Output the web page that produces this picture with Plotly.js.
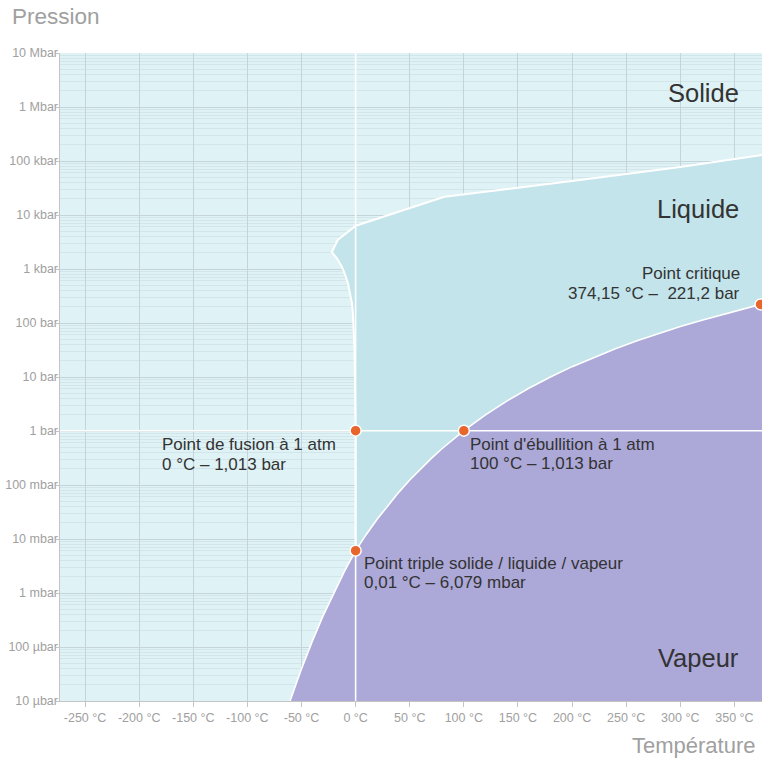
<!DOCTYPE html>
<html>
<head>
<meta charset="utf-8">
<script src="https://cdn.plot.ly/plotly-3.0.1.min.js"></script>
<style>html,body{margin:0;padding:0;background:#fff;}#chart{width:762px;height:759px;}</style>
</head>
<body>
<div id="chart"></div>
<script>
// Sublimation curve (ice / vapour), °C and bar
const subT = [-61, -60, -50, -40, -30, -20, -10, 0.01];
const subP = [0.0000096, 0.0000108, 0.0000394, 0.0001285, 0.00038, 0.001032, 0.0026, 0.006079];
// Vaporisation curve (liquid / vapour)
const vapT = [0.01, 10, 20, 30, 40, 50, 60, 70, 80, 90, 100, 120, 140, 160, 180, 200, 220, 240, 260, 280, 300, 320, 340, 360, 374.15];
const vapP = [0.006079, 0.01228, 0.02339, 0.04246, 0.07384, 0.1235, 0.1995, 0.312, 0.4741, 0.7018, 1.013, 1.987, 3.615, 6.182, 10.03, 15.55, 23.2, 33.47, 46.92, 64.17, 85.88, 112.9, 146.1, 186.7, 221.2];
// Melting curve and solid / liquid boundary, from triple point upward
const meltT = [0.01, 0, -1.0, -1.3, -1.9, -2.5, -3.4, -5.0, -7.1, -9.6, -12.7, -17.3, -22, -16.5, 0.16, 82, 200, 300, 376];
const meltP = [0.006079, 1.013, 32, 56, 99, 151, 232, 355, 543, 774, 1103, 1578, 2050, 3450, 6320, 21800, 42500, 77600, 129000];
// Remarkable points: fusion, ebullition, triple, critical
const ptT = [0, 100, 0.01, 374.15];
const ptP = [1.013, 1.013, 0.006079, 221.2];
const ptLine1 = ["Point de fusion à 1 atm", "Point d'ébullition à 1 atm", "Point triple solide / liquide / vapeur", "Point critique"];
const ptLine2 = ["0 °C – 1,013 bar", "100 °C – 1,013 bar", "0,01 °C – 6,079 mbar", "374,15 °C – &nbsp;221,2 bar"];
// Phase names
const phases = ["Solide", "Liquide", "Vapeur"];
// Ticks
const xTickVals = [-250, -200, -150, -100, -50, 0, 50, 100, 150, 200, 250, 300, 350];
const xTickText = ["-250 °C", "-200 °C", "-150 °C", "-100 °C", "-50 °C", "0 °C", "50 °C", "100 °C", "150 °C", "200 °C", "250 °C", "300 °C", "350 °C"];
const yTickVals = [1e-5, 1e-4, 1e-3, 1e-2, 1e-1, 1, 10, 100, 1e3, 1e4, 1e5, 1e6, 1e7];
const yTickText = ["10 µbar", "100 µbar", "1 mbar", "10 mbar", "100 mbar", "1 bar", "10 bar", "100 bar", "1 kbar", "10 kbar", "100 kbar", "1 Mbar", "10 Mbar"];

const xRange = [-273.15, 375.5];
const yRangeExp = [-5, 7];
const FAR_X = 420, LOW_P = 1e-6;

const C_SOLID = '#dff2f5', C_LIQ = '#c2e4ea', C_VAP = '#aca8d8', C_PT = '#e8652b';
const FONT = 'Liberation Sans, Arial, sans-serif';

const critP = vapP[vapP.length - 1];
const lastMeltP = meltP[meltP.length - 1];

// liquid polygon: vaporisation curve, then back along melting boundary
const liqX = vapT.concat([FAR_X, FAR_X]).concat(meltT.slice().reverse());
const liqY = vapP.concat([critP, lastMeltP * 1.2]).concat(meltP.slice().reverse());
// vapour polygon
const vapX = subT.concat(vapT.slice(1)).concat([FAR_X, FAR_X, subT[0]]);
const vapY = subP.concat(vapP.slice(1)).concat([critP, LOW_P, LOW_P]);

const traces = [
  {x: liqX, y: liqY, mode: 'lines', fill: 'toself', fillcolor: C_LIQ, line: {width: 0}, hoverinfo: 'skip'},
  {x: vapX, y: vapY, mode: 'lines', fill: 'toself', fillcolor: C_VAP, line: {width: 0}, hoverinfo: 'skip'},
  // reference lines at 0 °C and 1 atm
  {x: [ptT[0], ptT[0]], y: [LOW_P, 1e8], mode: 'lines', line: {color: '#ffffff', width: 1.6}, hoverinfo: 'skip'},
  {x: [xRange[0] - 10, FAR_X], y: [ptP[0], ptP[0]], mode: 'lines', line: {color: '#ffffff', width: 1.4}, hoverinfo: 'skip'},
  // boundaries
  {x: meltT, y: meltP, mode: 'lines', line: {color: '#ffffff', width: 2}, hoverinfo: 'skip'},
  {x: subT.concat(vapT.slice(1)), y: subP.concat(vapP.slice(1)), mode: 'lines', line: {color: '#ffffff', width: 1.6}, hoverinfo: 'skip'},
  {x: ptT, y: ptP, mode: 'markers', marker: {color: C_PT, size: 11, line: {color: '#ffffff', width: 1.5}}, cliponaxis: false, hoverinfo: 'skip'}
];

const lblFont = {family: FONT, size: 17, color: '#333333'};
// per label: anchor side, x shift, y shifts of line 1 and line 2
const lblAnchor = ['left', 'left', 'left', 'right'];
const lblXShift = [-196, 4, 6, -19];
const lblY1 = [-14, -14, -13, 31];
const lblY2 = [-33.5, -33, -32, 11];

const annotations = [];
for (let i = 0; i < ptT.length; i++) {
  [ptLine1[i], ptLine2[i]].forEach((t, k) => {
    annotations.push({
      xref: 'x', yref: 'y', x: ptT[i], y: Math.log10(ptP[i]), text: t, showarrow: false,
      xanchor: lblAnchor[i], yanchor: 'middle', xshift: lblXShift[i], yshift: k === 0 ? lblY1[i] : lblY2[i],
      font: lblFont
    });
  });
}
const phaseY = [0.938, 0.759, 0.067];
phases.forEach((p, i) => annotations.push({
  xref: 'paper', yref: 'paper', x: 0.966, y: phaseY[i], text: p, showarrow: false,
  xanchor: 'right', yanchor: 'middle', xshift: 3, font: {family: FONT, size: 25.5, color: '#333333'}
}));
annotations.push(
  {xref: 'paper', yref: 'paper', x: -0.071, y: 1.056, text: 'Pression', showarrow: false, xanchor: 'left', yanchor: 'middle', font: {family: FONT, size: 22.5, color: '#a0a0a0'}},
  {xref: 'paper', yref: 'paper', x: 0.992, y: -0.068, text: 'Température', showarrow: false, xanchor: 'right', yanchor: 'middle', xshift: 2, font: {family: FONT, size: 22, color: '#a0a0a0'}}
);

const layout = {
  width: 762, height: 759,
  margin: {l: 60, r: 0, t: 53, b: 58, pad: 0},
  paper_bgcolor: '#ffffff', plot_bgcolor: C_SOLID,
  showlegend: false,
  font: {family: FONT},
  xaxis: {
    range: xRange, tickmode: 'array', tickvals: xTickVals, ticktext: xTickText,
    showgrid: true, gridcolor: '#c4d4d8', gridwidth: 1, zeroline: false,
    showline: true, linecolor: '#c4c4c4', linewidth: 1,
    ticks: 'outside', ticklen: 5, tickcolor: '#c4c4c4',
    tickfont: {family: FONT, size: 12.5, color: '#a0a0a0'}, fixedrange: true
  },
  yaxis: {
    type: 'log', range: yRangeExp, tickmode: 'array', tickvals: yTickVals, ticktext: yTickText,
    showgrid: true, gridcolor: '#c4d4d8', gridwidth: 1, zeroline: false,
    showline: true, linecolor: '#c4c4c4', linewidth: 1.5,
    ticks: 'outside', ticklen: 3, tickcolor: '#c4c4c4', ticklabelstandoff: -5,
    tickfont: {family: FONT, size: 12.5, color: '#a0a0a0'},
    minor: {tickmode: 'linear', dtick: 'D1', showgrid: true, gridcolor: '#d2e5e9', gridwidth: 1, ticks: ''},
    fixedrange: true
  },
  annotations: annotations
};

Plotly.newPlot('chart', traces, layout, {displayModeBar: false, staticPlot: true});
</script>
</body>
</html>
